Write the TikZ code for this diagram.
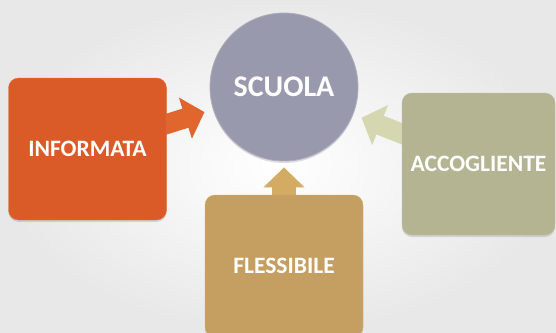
\documentclass[tikz,border=0pt]{standalone}
\usepackage{fontspec}
\setmainfont{Carlito}
\usepackage{tikz}
\usetikzlibrary{arrows.meta}
\usetikzlibrary{shadows}
\usetikzlibrary{backgrounds}

\definecolor{informata}{HTML}{DA5B28}
\definecolor{scuola}{HTML}{9899AC}
\definecolor{flessibile}{HTML}{C59F62}
\definecolor{accogliente}{HTML}{B4B392}
\definecolor{arrowL}{HTML}{E0662E}
\definecolor{arrowU}{HTML}{D3AB62}
\definecolor{arrowR}{HTML}{D5D7B0}

\begin{document}
\begin{tikzpicture}[x=1pt, y=-1pt,
    box/.style={rounded corners=10pt, minimum width=158pt, minimum height=142pt, inner sep=0pt, text=white,
      font=\bfseries\fontsize{23.5}{28}\selectfont, drop shadow={opacity=0.25, shadow xshift=0pt, shadow yshift=-2pt}},
    hub/.style={circle, minimum size=148pt, inner sep=0pt, text=white, fill=scuola, draw=scuola!80!white, line width=0.8pt,
      font=\bfseries\fontsize{30}{36}\selectfont, drop shadow={opacity=0.25, shadow xshift=0pt, shadow yshift=-2pt}},
    block/.style={line width=#1, shorten <=-4pt}]
        % Define the picture size
        \def\w{556}
        \def\h{332}
        \useasboundingbox (0,0) rectangle (\w,\h);

        % Draw the central circle
        \node[hub] (scuola) at (284,87) {SCUOLA};

        % Draw the three boxes around it
        \node[box, fill=informata, draw=informata!85!white] (inf) at (87.5,149) {INFORMATA};
        \node[box, fill=flessibile, draw=flessibile!85!white] (fle) at (284,266) {FLESSIBILE};
        \node[box, fill=accogliente, draw=accogliente!85!white, minimum width=153pt] (acc) at (478.5,164) {ACCOGLIENTE};

        \begin{scope}[on background layer]
          % Draw the background
          \shade[inner color=white, outer color=gray!18] (0,0) rectangle (\w,\h);

          % Draw the block arrows, their tails go under the boxes
          \draw[block=20pt, arrowL, -{Triangle[length=20pt, width=42pt]}, shorten >=9pt] (inf) -- (scuola);
          \draw[block=24pt, arrowU, -{Triangle[length=20pt, width=40pt]}, shorten >=6pt] (fle) -- (scuola);
          \draw[block=20pt, arrowR, -{Triangle[length=20pt, width=42pt]}, shorten >=9pt] (acc) -- (scuola);
        \end{scope}
      \end{tikzpicture}
\end{document}
